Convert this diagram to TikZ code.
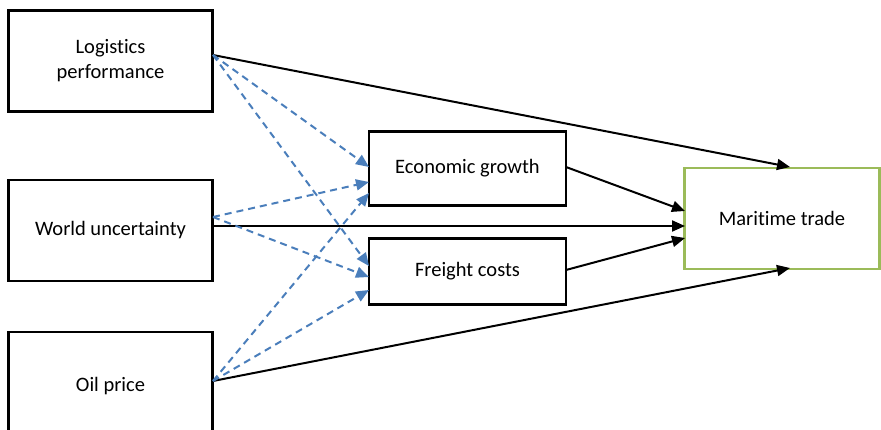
\documentclass[tikz,border=0pt]{standalone}
\usepackage{fontspec}
\setmainfont[Ligatures=NoCommon]{Carlito}
\usetikzlibrary{arrows.meta}
\definecolor{dashblue}{HTML}{4A7EBB}
\definecolor{boxgreen}{HTML}{9BBB59}
\tikzset{
  box/.style={draw=black, line width=2.2pt, fill=white, inner sep=0pt, align=center, font=\fontsize{20.5}{25}\selectfont},
  goal/.style={box, draw=boxgreen},
  solid link/.style={black, line width=2pt, -{Triangle[length=13pt,width=11pt]}},
  dashed link/.style={dashblue, line width=2pt, dash pattern=on 7pt off 5pt, -{Triangle[length=13pt,width=11pt]}},
}
\begin{document}
\begin{tikzpicture}[x=1pt,y=-1pt]
\useasboundingbox (0,0) rectangle (881,430);
% boxes (centres in picture units)
\node[box, minimum width=204pt, minimum height=101pt] (lp) at (110.5,61) {Logistics\\performance};
\node[box, minimum width=204pt, minimum height=101pt] (wu) at (110.5,230.5) {World uncertainty};
\node[box, minimum width=204pt, minimum height=108pt] (op) at (110.5,386) {Oil price};
\node[box, minimum width=197pt, minimum height=74pt] (eg) at (467.5,168.5) {Economic growth};
\node[box, minimum width=197pt, minimum height=66pt] (fc) at (467.5,271.5) {Freight costs};
\node[goal, minimum width=195pt, minimum height=101pt] (mt) at (782,218.5) {Maritime trade};
% attachment points on the box sides
\coordinate (lpR) at (213,55);
\coordinate (wuR) at (213,217);
\coordinate (wuM) at (213,226);
\coordinate (opR) at (213,381);
\coordinate (egA) at (369,167);
\coordinate (egB) at (369,182);
\coordinate (egC) at (369,193);
\coordinate (egR) at (566,167);
\coordinate (fcA) at (369,266);
\coordinate (fcB) at (369,277);
\coordinate (fcC) at (369,290);
\coordinate (fcR) at (566,270);
\coordinate (mtT) at (790,167);
\coordinate (mtB) at (790,268);
\coordinate (mtL1) at (685,211);
\coordinate (mtL2) at (685,226);
\coordinate (mtL3) at (685,238);
% direct effects
\draw[solid link] (lpR) -- (mtT);
\draw[solid link] (wuM) -- (mtL2);
\draw[solid link] (opR) -- (mtB);
\draw[solid link] (egR) -- (mtL1);
\draw[solid link] (fcR) -- (mtL3);
% effects through the mediators
\draw[dashed link] (lpR) -- (egA);
\draw[dashed link] (lpR) -- (fcA);
\draw[dashed link] (wuR) -- (egB);
\draw[dashed link] (wuR) -- (fcB);
\draw[dashed link] (opR) -- (egC);
\draw[dashed link] (opR) -- (fcC);
\end{tikzpicture}
\end{document}
